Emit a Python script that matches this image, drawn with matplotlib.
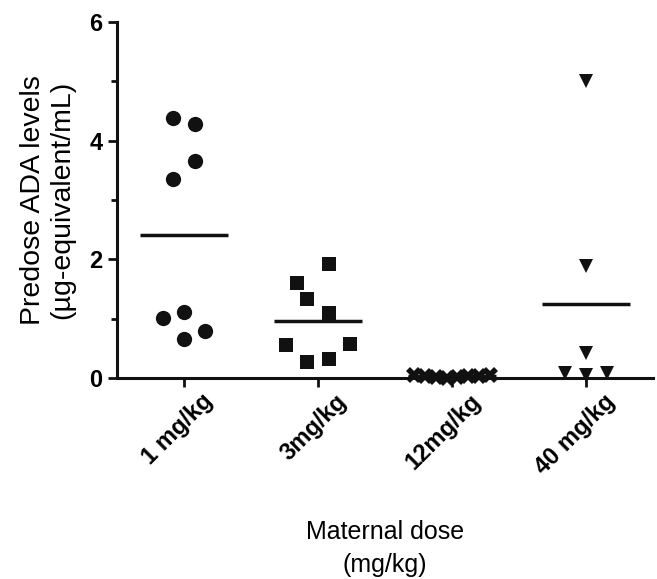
import numpy as np
import matplotlib.pyplot as plt
from matplotlib.transforms import ScaledTranslation

plt.rcParams['font.family'] = ['Liberation Sans', 'DejaVu Sans']

groups = ['1 mg/kg', '3mg/kg', '12mg/kg', '40 mg/kg']

# values (ug-equivalent/mL), with horizontal jitter per point
g1_vals = [4.38, 4.28, 3.65, 3.35, 1.02, 1.11, 0.80, 0.66]
g1_off = [-0.08, 0.08, 0.08, -0.08, -0.16, 0.0, 0.16, 0.0]
g2_vals = [1.93, 1.60, 1.34, 1.10, 0.55, 0.58, 0.27, 0.33]
g2_off = [0.08, -0.16, -0.08, 0.08, -0.24, 0.24, -0.08, 0.08]
g3_vals = [0.05, 0.03, 0.02, 0.0, 0.02, 0.03, 0.04, 0.05]
g3_off = [-0.28, -0.2, -0.12, -0.04, 0.04, 0.12, 0.2, 0.28]
g4_vals = [5.01, 1.89, 0.42, 0.08, 0.05, 0.08]
g4_off = [0.0, 0.0, 0.0, -0.16, 0.0, 0.16]

data = [(g1_vals, g1_off, 'o', 11), (g2_vals, g2_off, 's', 10),
        (g3_vals, g3_off, 'X', 11.5), (g4_vals, g4_off, 'v', 10)]

fig = plt.figure(figsize=(6.57, 5.79), dpi=100)
ax = fig.add_axes([0.178, 0.347, 0.816, 0.615])

for i, (vals, off, mk, ms) in enumerate(data):
    x = i + np.array(off)
    ax.plot(x, vals, linestyle='none', marker=mk, color='#111111',
            markersize=ms, markeredgewidth=0, clip_on=False, zorder=3)
    m = np.mean(vals)
    ax.plot([i - 0.33, i + 0.33], [m, m], color='#111111', lw=2.5,
            solid_capstyle='butt', clip_on=False, zorder=2)

ax.set_xlim(-0.5, 3.5)
ax.set_ylim(0, 6)
ax.set_xticks(range(4))
ax.set_yticks([0, 2, 4, 6])
ax.set_yticks([1, 3, 5], minor=True)
ax.set_yticklabels(['0', '2', '4', '6'], fontsize=17, fontweight='bold')

for s in ['top', 'right']:
    ax.spines[s].set_visible(False)
for s in ['left', 'bottom']:
    ax.spines[s].set_linewidth(2.2)
    ax.spines[s].set_color('#111111')

ax.tick_params(axis='both', which='major', length=6.5, width=2, color='#111111', pad=4)
ax.tick_params(axis='y', which='minor', length=4, width=2, color='#111111')

ax.set_xticklabels(groups, rotation=45, ha='right', rotation_mode='anchor',
                   fontsize=17, fontweight='bold')
# nudge rotated labels so their ends sit right of the ticks, as in the original
shift = ScaledTranslation(17 / 100, 3 / 100, fig.dpi_scale_trans)
for lab in ax.get_xticklabels():
    lab.set_transform(lab.get_transform() + shift)

ax.set_ylabel('Predose ADA levels\n(\u00b5g-equivalent/mL)', fontsize=20.5,
              labelpad=10, linespacing=1.15)
ax.set_xlabel('Maternal dose\n(mg/kg)', fontsize=18, labelpad=30, linespacing=1.45)

fig.savefig('out.png', dpi=100)
